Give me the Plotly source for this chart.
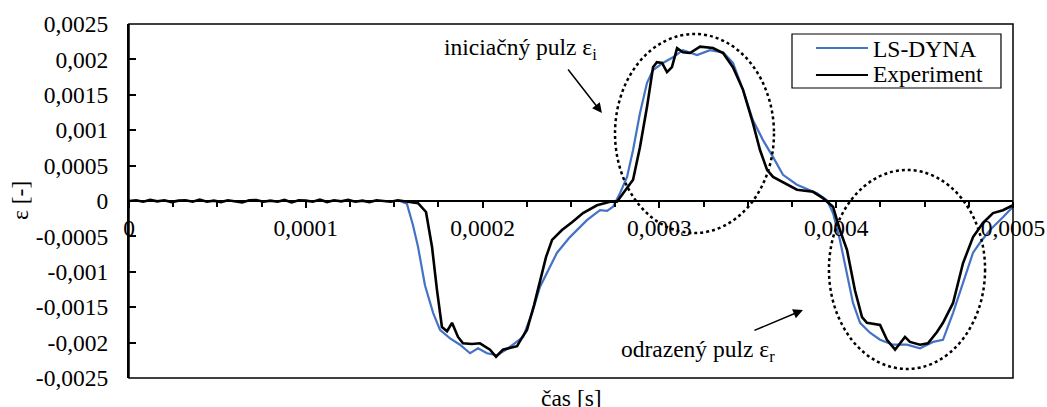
import numpy as np
import plotly.graph_objects as go

# ---------------- data (time in microseconds, strain in [-]) ----------------
exp_time_us = [0, 4, 8, 12, 16, 20, 24, 28, 32, 36, 40, 44, 48, 52, 56, 60, 64, 68, 72, 76,
               80, 84, 88, 92, 96, 100, 104, 108, 112, 116, 120, 124, 128, 132, 136, 140, 144, 148, 152,
               155.0, 163.5, 168.0, 171.4, 174.2, 177.0, 179.9, 182.7, 186.1, 188.9, 194.0, 198.5,
               204.2, 207.6, 211.5, 215.5, 219.5, 222.3, 225.1, 229.1, 232.5, 235.9, 239.3, 244.9,
               250.6, 256.8, 264.7, 272.1, 276.0, 279.4, 285.1, 289.0, 293.0, 296.4, 298.6, 301.5,
               304.3, 307.1, 310.0, 313.3, 317.3, 323.0, 330.3, 336.0, 341.6, 347.3, 352.9, 356.9,
               360.9, 364.3, 369.9, 377.8, 386.9, 392.5, 398.2, 402.1, 406.1, 410.6, 414.6, 417.4,
               424.8, 428.7, 433.3, 438.9, 441.7, 447.4, 451.9, 457.0, 460.4, 466.1, 471.7, 477.4,
               483.0, 488.7, 494.3, 500.0]
exp_strain = [0, 1e-5, -1e-5, 1.5e-5, -0.5e-5, 1e-5, -1.5e-5, 0.5e-5, 1e-5, -1e-5,
              2e-5, -1e-5, 0.5e-5, -1.5e-5, 1e-5, 0, -2e-5, 1e-5, 1.5e-5, -1e-5,
              0.5e-5, -1e-5, 1.5e-5, -2e-5, 1e-5, 0.5e-5, -1e-5, 2e-5, -1.5e-5, 1e-5,
              -0.5e-5, 1.5e-5, -1e-5, 0.5e-5, -1.5e-5, 1e-5, 0.5e-5, -1e-5, 1e-5,
              0.0, -0.00003, -0.000155, -0.00065, -0.00126, -0.00178, -0.00184, -0.00172,
              -0.00192, -0.00201, -0.00202, -0.00201, -0.00210, -0.00220, -0.00210, -0.00208,
              -0.00205, -0.00193, -0.00182, -0.00147, -0.00112, -0.00079, -0.00055, -0.00041,
              -0.00030, -0.00017, -0.00006, -0.00001, -0.00001, 0.00011, 0.00030, 0.00076,
              0.00133, 0.00189, 0.00196, 0.00195, 0.00182, 0.00189, 0.00216, 0.00210,
              0.00209, 0.00218, 0.00216, 0.00209, 0.00189, 0.00157, 0.00110, 0.00072,
              0.00044, 0.00034, 0.00027, 0.00016, 0.00013, 0.00004, -0.00008, -0.00041,
              -0.00069, -0.00126, -0.00164, -0.00172, -0.00175, -0.00196, -0.00210, -0.00192,
              -0.00199, -0.00203, -0.00201, -0.00185, -0.00172, -0.00144, -0.00088, -0.00051,
              -0.00031, -0.00017, -0.00013, -0.00006]

sim_time_us = [0, 150.0, 153.3, 157.2, 160.6, 163.5, 167.4, 172.0, 175.9, 181.6, 187.2, 192.9,
               197.4, 202.5, 208.1, 214.4, 222.9, 228.0, 232.5, 242.1, 249.4, 259.0, 266.4,
               270.4, 273.8, 277.7, 281.7, 285.1, 289.0, 293.0, 296.4, 302.0, 307.7, 313.3,
               321.3, 328.6, 336.0, 341.6, 347.3, 352.9, 358.6, 364.3, 369.9, 377.8, 389.1,
               394.8, 398.2, 402.1, 406.1, 409.5, 413.5, 419.1, 424.8, 432.1, 440.0, 447.4,
               454.8, 460.4, 466.1, 471.7, 477.4, 481.3, 487.0, 494.3, 500.0]
sim_strain = [0, 0, 0, -0.00004, -0.00034, -0.00065, -0.00119, -0.00158, -0.00182, -0.00194,
              -0.00203, -0.00215, -0.00208, -0.00215, -0.00218, -0.00208, -0.00192, -0.00158,
              -0.00121, -0.00073, -0.00051, -0.00027, -0.00013, -0.00014, -0.00008, 0.00011,
              0.00034, 0.00072, 0.00124, 0.00167, 0.00185, 0.00195, 0.00203, 0.00213, 0.00206,
              0.00213, 0.00210, 0.00195, 0.00157, 0.00114, 0.00086, 0.00062, 0.00037, 0.00023,
              0.00011, 0.00001, -0.00017, -0.00055, -0.00102, -0.00144, -0.00172, -0.00186,
              -0.00196, -0.00203, -0.00203, -0.00208, -0.00199, -0.00196, -0.00158, -0.00116,
              -0.00073, -0.00059, -0.00041, -0.00023, -0.00008]

x_tick_vals = [0, 0.0001, 0.0002, 0.0003, 0.0004, 0.0005]
x_tick_text = ["0", "0,0001", "0,0002", "0,0003", "0,0004", "0,0005"]
y_tick_vals = [0.0025, 0.002, 0.0015, 0.001, 0.0005, 0, -0.0005, -0.001, -0.0015, -0.002, -0.0025]
y_tick_text = ["0,0025", "0,002", "0,0015", "0,001", "0,0005", "0", "-0,0005", "-0,001",
               "-0,0015", "-0,002", "-0,0025"]

series_names = ["LS-DYNA", "Experiment"]
series_colors = ["#4472C4", "black"]
label_initial = "iniciačný pulz ε<sub>i</sub>"
label_reflected = "odrazený pulz ε<sub>r</sub>"
x_title = "čas [s]"
y_title = "ε [-]"

US = 1e-6
exp_t = np.array(exp_time_us) * US
sim_t = np.array(sim_time_us) * US

FONT = "Liberation Serif, Times New Roman, serif"
FS = 23.5

fig = go.Figure()
fig.add_trace(go.Scatter(x=sim_t, y=sim_strain, mode="lines", name=series_names[0],
                         line=dict(color=series_colors[0], width=2.2), showlegend=False))
fig.add_trace(go.Scatter(x=exp_t, y=exp_strain, mode="lines", name=series_names[1],
                         line=dict(color=series_colors[1], width=2.6), showlegend=False))

tick_common = dict(tickcolor="black", tickwidth=1.5)
fig.update_layout(
    width=1047, height=407,
    margin=dict(l=129, r=34, t=24, b=29),
    paper_bgcolor="white", plot_bgcolor="white",
    font=dict(family=FONT, size=FS, color="black"),
    showlegend=False,
    xaxis=dict(range=[0, 0.0005], anchor="free", position=0.5, side="bottom",
               showgrid=False, zeroline=False, showline=True, linecolor="black", linewidth=1.5,
               tickmode="array", tickvals=x_tick_vals, ticktext=x_tick_text,
               ticks="outside", ticklen=6, ticklabelstandoff=0, automargin=False,
               minor=dict(ticks="outside", ticklen=5, dtick=0.000025, tick0=0,
                          tickcolor="black", tickwidth=1.5, showgrid=False),
               **tick_common),
    xaxis2=dict(range=[0, 0.0005], overlaying="x", anchor="free", position=0.5, side="bottom",
                showgrid=False, zeroline=False, showline=False, showticklabels=False,
                tickmode="array", tickvals=x_tick_vals, ticks="inside", ticklen=6,
                minor=dict(ticks="inside", ticklen=5, dtick=0.000025, tick0=0,
                           tickcolor="black", tickwidth=1.5, showgrid=False),
                **tick_common),
    yaxis=dict(range=[-0.0025, 0.0025], showgrid=False, zeroline=False,
               showline=True, linecolor="black", linewidth=2,
               tickmode="array", tickvals=y_tick_vals, ticktext=y_tick_text,
               ticks="inside", ticklen=7, ticklabelstandoff=14, automargin=False,
               **tick_common),
)

# frame around plot area
fig.add_shape(type="rect", xref="paper", yref="paper", x0=0, x1=1, y0=0, y1=1,
              line=dict(color="black", width=1.5), layer="above")

# dotted ellipses marking the pulses
fig.add_shape(type="circle", xref="x", yref="y", x0=0.0002749, x1=0.0003648,
              y0=-0.000452, y1=0.002359, line=dict(color="black", width=2.5, dash="dot"))
fig.add_shape(type="circle", xref="x", yref="y", x0=0.0003959, x1=0.0004842,
              y0=-0.002373, y1=0.000438, line=dict(color="black", width=2.5, dash="dot"))

# legend box (drawn in paper space)
fig.add_shape(type="rect", xref="paper", yref="paper", x0=0.75, x1=0.9864, y0=0.8192, y1=0.9718,
              line=dict(color="black", width=1.2), fillcolor="white", layer="above")
legend_line_y = [0.9322, 0.8559]
legend_text_y = [0.9294, 0.8588]
for name, color, ly, ty in zip(series_names, series_colors, legend_line_y, legend_text_y):
    fig.add_shape(type="line", xref="paper", yref="paper", x0=0.7771, x1=0.8360, y0=ly, y1=ly,
                  line=dict(color=color, width=2.2), layer="above")
    fig.add_annotation(x=0.8394, y=ty, xref="paper", yref="paper", text=name, showarrow=False,
                       xanchor="left", yanchor="middle", font=dict(family=FONT, size=FS))

# labels
fig.add_annotation(x=0.0002214, y=0.00215, xref="x", yref="y", text=label_initial,
                   showarrow=False, font=dict(family=FONT, size=FS))
fig.add_annotation(x=0.0003218, y=-0.00212, xref="x", yref="y", text=label_reflected,
                   showarrow=False, font=dict(family=FONT, size=FS))
# arrows
fig.add_annotation(x=0.0002675, y=0.001243, ax=0.0002477, ay=0.001879,
                   xref="x", yref="y", axref="x", ayref="y", text="",
                   showarrow=True, arrowhead=2, arrowsize=1.3, arrowwidth=1.5, arrowcolor="black")
fig.add_annotation(x=0.0003812, y=-0.00154, ax=0.0003529, ay=-0.001836,
                   xref="x", yref="y", axref="x", ayref="y", text="",
                   showarrow=True, arrowhead=2, arrowsize=1.3, arrowwidth=1.5, arrowcolor="black")

# axis titles
fig.add_annotation(x=-0.1233, y=0.5, xref="paper", yref="paper", text=y_title, textangle=-90,
                   showarrow=False, xanchor="center", yanchor="middle",
                   font=dict(family=FONT, size=FS))
fig.add_annotation(x=0.5, y=-0.056, xref="paper", yref="paper", text=x_title,
                   showarrow=False, xanchor="center", yanchor="middle",
                   font=dict(family=FONT, size=FS))

fig.write_html("out.html")
